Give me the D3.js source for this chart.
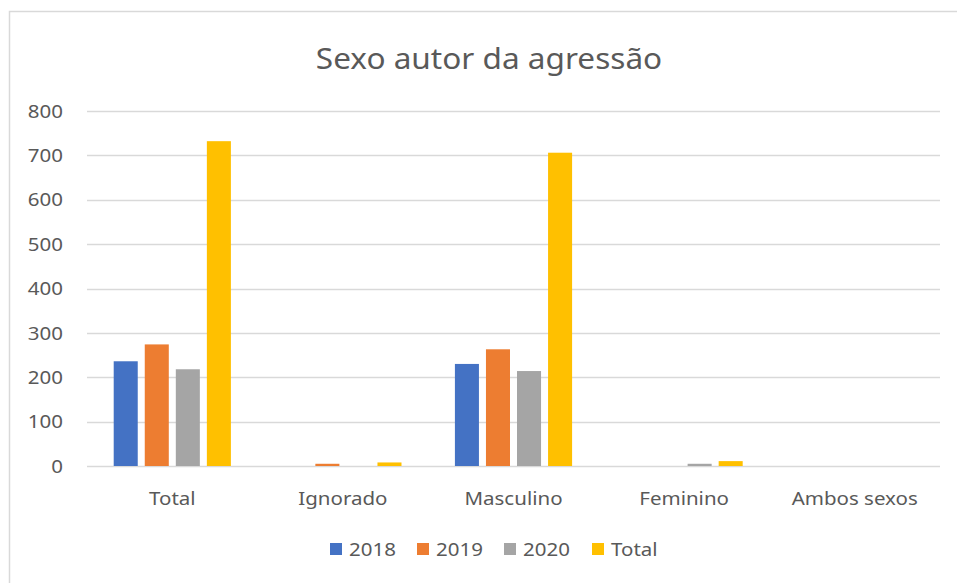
<!DOCTYPE html>
<html>
<head>
<meta charset="utf-8">
<script src="https://cdn.jsdelivr.net/npm/d3@7"></script>
<style>
  body { margin: 0; background: #fff; }
  text { font-family: "Noto Sans", "Open Sans", sans-serif; fill: #595959; }
</style>
</head>
<body>
<div id="chart"></div>
<script>
// data
var categories = ["Total", "Ignorado", "Masculino", "Feminino", "Ambos sexos"];
var series = ["2018", "2019", "2020", "Total"];
var values2018 = [236, 0, 230, 0, 0];
var values2019 = [274, 5, 263, 0, 0];
var values2020 = [218, 0, 214, 5, 0];
var valuesTotal = [732, 8, 706, 11, 0];
var yTicks = [0, 100, 200, 300, 400, 500, 600, 700, 800];
var colors = ["#4472C4", "#ED7D31", "#A5A5A5", "#FFC000"];

var allValues = [values2018, values2019, values2020, valuesTotal];

var width = 957, height = 583;
var margin = {left: 87, right: 17, top: 111, bottom: 117};
var stretch = 1.08; // original text is a bit wider than Noto Sans

function tr(x, y, sx) {
  return "translate(" + x + "," + y + ") scale(" + sx + ",1)";
}

var svg = d3.select("#chart").append("svg")
  .attr("width", width)
  .attr("height", height);

// chart border (right and bottom are cropped in the original)
svg.append("path")
  .attr("d", "M9.5,583 L9.5,11.5 L957,11.5")
  .attr("fill", "none")
  .attr("stroke", "#d9d9d9")
  .attr("stroke-width", 1.5);

svg.append("text")
  .attr("transform", tr(489, 69, 1.07))
  .attr("text-anchor", "middle")
  .attr("font-size", "29.5px")
  .text("Sexo autor da agressão");

var x0 = d3.scaleBand()
  .domain(categories)
  .range([margin.left, width - margin.right]);

var x1 = d3.scaleBand()
  .domain(series)
  .range([0, x0.bandwidth()])
  .paddingInner(0.226)
  .paddingOuter(0.86);

var y = d3.scaleLinear()
  .domain([0, 800])
  .range([height - margin.bottom, margin.top]);

// gridlines
svg.append("g")
  .selectAll("line")
  .data(yTicks)
  .enter()
  .append("line")
  .attr("x1", margin.left)
  .attr("x2", width - margin.right)
  .attr("y1", d => Math.round(y(d)) + 0.5)
  .attr("y2", d => Math.round(y(d)) + 0.5)
  .attr("stroke", "#d9d9d9")
  .attr("stroke-width", 1.5);

// y labels
svg.append("g")
  .selectAll("text")
  .data(yTicks)
  .enter()
  .append("text")
  .attr("transform", d => tr(63, y(d), stretch))
  .attr("dy", "0.35em")
  .attr("text-anchor", "end")
  .attr("font-size", "19px")
  .text(d => d);

// bars
var groups = svg.append("g")
  .selectAll("g")
  .data(categories)
  .enter()
  .append("g")
  .attr("transform", d => "translate(" + x0(d) + ",0)");

groups.selectAll("rect")
  .data((d, i) => series.map((s, j) => ({s: s, v: allValues[j][i], c: colors[j]})))
  .enter()
  .append("rect")
  .attr("x", d => x1(d.s))
  .attr("width", x1.bandwidth())
  .attr("y", d => y(d.v))
  .attr("height", d => y(0) - y(d.v))
  .attr("fill", d => d.c);

// category labels
svg.append("g")
  .selectAll("text")
  .data(categories)
  .enter()
  .append("text")
  .attr("transform", d => tr(x0(d) + x0.bandwidth() / 2, 505, stretch))
  .attr("text-anchor", "middle")
  .attr("font-size", "19px")
  .text(d => d);

// legend
var legendX = [330, 417, 504, 592];
var legend = svg.append("g")
  .selectAll("g")
  .data(series)
  .enter()
  .append("g")
  .attr("transform", (d, i) => "translate(" + legendX[i] + ",543)");

legend.append("rect")
  .attr("width", 12)
  .attr("height", 12)
  .attr("fill", (d, i) => colors[i]);

legend.append("text")
  .attr("transform", tr(19, 6, stretch))
  .attr("dy", "0.35em")
  .attr("font-size", "19px")
  .text(d => d);
</script>
</body>
</html>
